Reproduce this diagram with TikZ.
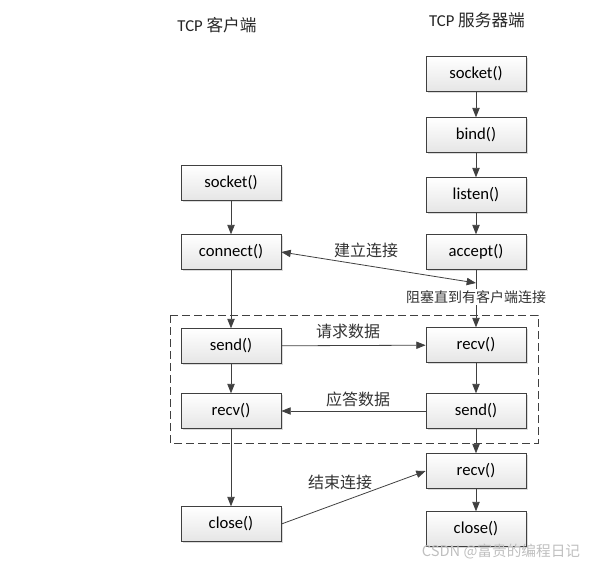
\documentclass[tikz,border=0pt]{standalone}
\usepackage{fontspec}
\setmainfont{Carlito}
\newfontfamily\cjk{Noto Sans CJK SC}
\usetikzlibrary{arrows.meta,shadows}
\begin{document}
\begin{tikzpicture}[x=0.75pt,y=-0.75pt,
  box/.style={draw=black!75, line width=0.6pt, top color=white, bottom color=gray!20,
    minimum width=75pt, minimum height=26pt, inner sep=0pt,
    font=\fontsize{12.5}{14}\selectfont,
    drop shadow={shadow xshift=1.3pt, shadow yshift=-1.3pt, fill=gray!40, opacity=0.7}},
  arr/.style={draw=black!75, line width=0.6pt, -{Triangle[length=7pt,width=5.5pt]}},
  ln/.style={draw=black!75, line width=0.6pt},
  lbl/.style={font=\cjk\fontsize{12}{14}\selectfont, text=black!80, inner sep=1pt},
  ttl/.style={font=\fontsize{12.5}{14}\selectfont, text=black!85}]
\useasboundingbox (0,0) rectangle (590,568);
% titles
\node[ttl] (tc) at (217,25) {TCP {\cjk 客户端}};
\node[ttl] (ts) at (477,20) {TCP {\cjk 服务器端}};
% client
\node[box] (csock) at (231,183) {socket()};
\node[box] (cconn) at (231,252) {connect()};
\node[box] (csend) at (231,346) {send()};
\node[box] (crecv) at (231,411) {recv()};
\node[box] (cclose) at (231,524) {close()};
% server
\node[box] (ssock) at (476,74) {socket()};
\node[box] (sbind) at (476,135) {bind()};
\node[box] (slist) at (476,195) {listen()};
\node[box] (sacc) at (476,252) {accept()};
\node[box] (srecv) at (476,345) {recv()};
\node[box] (ssend) at (476,411) {send()};
\node[box] (srecv2) at (476,471) {recv()};
\node[box] (sclose) at (476,529) {close()};
% dashed frame
\draw[black!75, line width=0.6pt, dash pattern=on 6pt off 3pt] (170,315) rectangle (538,443);
% blocking label
\node[lbl, fill=white, font=\cjk\fontsize{10.5}{12}\selectfont] (blk) at (476,297) {阻塞直到有客户端连接};
\coordinate (accj) at (476,283);
% client flow
\draw[arr] (csock) -- (cconn);
\draw[arr] (cconn) -- (csend);
\draw[arr] (csend) -- (crecv);
\draw[arr] (crecv) -- (cclose);
% server flow
\draw[arr] (ssock) -- (sbind);
\draw[arr] (sbind) -- (slist);
\draw[arr] (slist) -- (sacc);
\draw[ln] (sacc) -- (blk);
\draw[arr] (blk) -- (srecv);
\draw[arr] (srecv) -- (ssend);
\draw[arr] (ssend) -- (srecv2);
\draw[arr] (srecv2) -- (sclose);
% exchanges
\draw[arr, {Triangle[length=7pt,width=5.5pt]}-{Triangle[length=7pt,width=5.5pt]}] (cconn.east) -- (accj);
\node[lbl] (l1) at (366,250) {建立连接};
\draw[arr] (csend) -- (srecv);
\node[lbl] (l2) at (348,331) {请求数据};
\draw[arr] (ssend) -- (crecv);
\node[lbl] (l3) at (358,399) {应答数据};
\draw[arr] (cclose.east) -- (srecv2.west);
\node[lbl] (l4) at (340,482) {结束连接};
% watermark
\node[font=\cjk\fontsize{11}{13}\selectfont, text=gray!50] (wm) at (501,552) {CSDN @富贵的编程日记};
\end{tikzpicture}
\end{document}
